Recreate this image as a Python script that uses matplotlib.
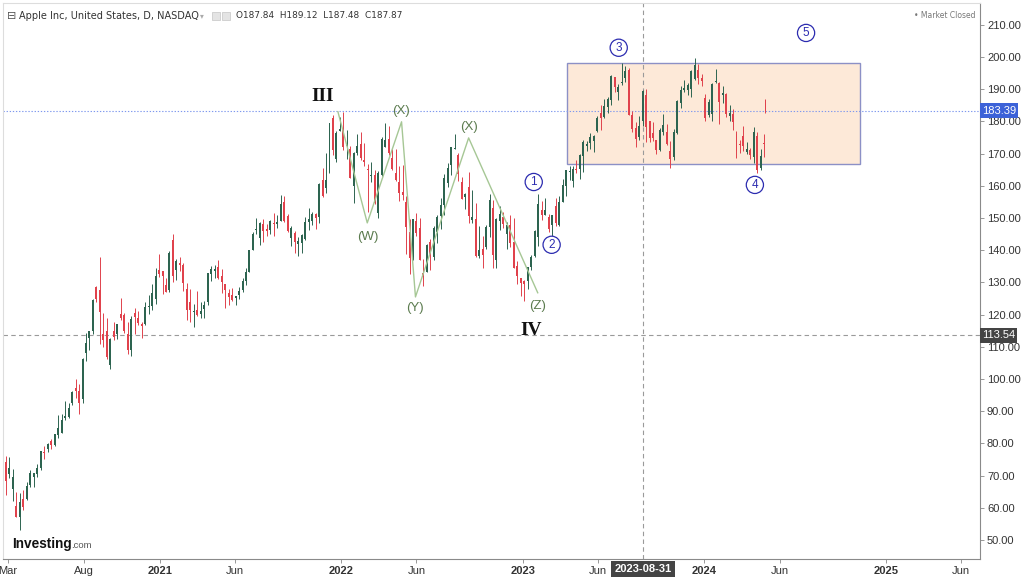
import numpy as np
import pandas as pd
import matplotlib
matplotlib.use("Agg")
import matplotlib.pyplot as plt
import matplotlib.dates as mdates
from matplotlib.patches import Rectangle
from matplotlib.transforms import blended_transform_factory

# ── weekly AAPL candles, week starting 2020-02-24 ──
opens = [
    # 2020
    74.3, 70.6, 65.9, 60.5, 57.0, 62.7, 62.7, 67.1, 69.5, 70.4, 72.3, 77.0, 78.3, 80.9, 79.4,
    82.6, 83.3, 87.8, 88.3, 92.5, 97.3, 96.4, 93.7, 108.2, 112.6, 115.0, 128.7, 127.6, 113.9,
    115.0, 104.5, 115.0, 113.9, 120.1, 120.0, 114.0, 109.1, 120.5, 118.9, 117.2, 117.0, 122.3,
    122.6, 125.0, 134.0,
    # 2021
    133.5, 129.2, 127.8, 143.1, 133.8, 136.0, 135.5, 128.0, 123.8, 120.9, 121.4, 120.3, 121.6,
    123.9, 132.5, 133.5, 134.8, 132.0, 129.4, 126.8, 126.0, 125.1, 126.2, 127.8, 130.3, 133.4,
    140.1, 146.2, 143.8, 148.3, 146.4, 146.2, 148.5, 148.3, 149.0, 155.0, 150.6, 143.8, 145.5,
    141.8, 142.3, 143.4, 148.7, 149.0, 151.4, 150.4, 161.7, 159.4, 164.3, 181.1, 168.3, 177.1,
    # 2022
    177.8, 172.3, 171.5, 160.0, 170.2, 172.9, 168.0, 165.0, 163.1, 163.4, 151.5, 163.5, 172.2,
    174.6, 168.7, 163.9, 161.1, 158.2, 154.9, 145.6, 137.8, 149.1, 147.0, 132.9, 133.4, 142.7,
    137.8, 145.7, 150.7, 154.0, 161.0, 166.4, 171.5, 169.7, 161.1, 156.5, 159.6, 149.3, 149.7,
    138.2, 140.4, 141.1, 147.2, 153.2, 137.1, 149.0, 150.2, 145.1, 147.8, 142.7, 135.1, 131.4,
    # 2023
    130.3, 130.5, 134.8, 138.1, 144.0, 152.6, 151.0, 150.2, 147.7, 153.8, 147.8, 155.1, 159.9,
    164.3, 161.4, 165.1, 165.2, 169.3, 172.5, 173.2, 174.0, 177.0, 182.6, 181.3, 184.4, 186.8,
    193.8, 189.2, 191.9, 193.4, 196.1, 182.1, 178.0, 175.1, 180.1, 188.3, 180.1, 176.5, 174.2,
    171.2, 176.8, 176.8, 170.9, 169.0, 176.4, 185.8, 189.9, 189.9, 190.0, 193.1, 196.1, 193.6,
    # 2024
    187.2, 182.1, 182.2, 192.3, 192.0, 188.2, 188.4, 181.8, 182.2, 176.2, 172.9, 175.6, 170.6,
    171.2, 169.0, 175.4, 165.5, 173.4,
]
highs = [
    76.0, 75.9, 72.0, 64.8, 64.7, 65.6, 67.9, 71.6, 70.8, 73.6, 77.6, 79.3, 80.2, 81.4, 82.9,
    88.7, 89.1, 93.1, 92.6, 96.3, 100.0, 98.5, 106.4, 114.4, 115.0, 124.9, 128.8, 138.0, 120.5,
    119.0, 112.9, 117.7, 117.0, 125.2, 120.4, 117.7, 119.6, 122.0, 121.0, 117.6, 123.8, 126.0,
    129.6, 134.4, 138.8,
    133.6, 131.5, 139.7, 145.1, 137.4, 137.9, 136.0, 129.7, 127.9, 123.2, 127.2, 123.9, 124.2,
    133.0, 135.0, 135.5, 137.1, 134.1, 129.5, 128.0, 128.3, 125.9, 128.5, 131.5, 134.6, 140.0,
    145.7, 150.0, 148.7, 149.8, 148.0, 149.4, 151.7, 150.9, 157.3, 157.0, 151.4, 147.4, 146.0,
    144.2, 144.9, 150.2, 153.2, 152.0, 151.6, 161.0, 165.7, 170.3, 179.6, 182.1, 176.9, 181.3,
    182.9, 177.2, 172.5, 170.4, 176.2, 176.7, 173.3, 166.7, 167.4, 165.0, 164.5, 175.3, 179.6,
    178.5, 171.3, 171.3, 166.2, 166.5, 156.7, 149.8, 149.7, 151.7, 149.9, 137.3, 141.9, 143.5,
    147.6, 150.9, 156.3, 163.6, 167.2, 172.2, 176.2, 170.1, 162.9, 157.8, 164.3, 158.7, 154.7,
    147.5, 144.5, 147.9, 157.5, 155.5, 150.0, 153.6, 151.8, 148.9, 150.9, 150.0, 136.6, 131.4,
    130.9, 134.9, 138.6, 146.4, 157.4, 155.2, 156.3, 151.3, 151.1, 156.3, 156.7, 162.1, 165.0,
    166.3, 166.3, 167.9, 169.9, 174.3, 174.0, 176.4, 175.8, 181.8, 185.0, 187.0, 187.6, 194.5,
    193.9, 191.7, 198.2, 197.2, 196.7, 183.1, 179.7, 181.6, 189.9, 190.0, 180.3, 179.7, 174.4,
    178.0, 182.3, 179.1, 174.0, 177.8, 186.6, 191.0, 192.9, 192.1, 196.0, 199.6, 197.7, 194.7,
    188.4, 187.0, 192.0, 196.4, 192.2, 191.1, 188.7, 185.0, 183.9, 176.9, 174.4, 178.7, 173.6,
    171.9, 178.4, 176.8, 171.3, 176.0,
]
lows = [
    64.1, 69.4, 62.0, 57.0, 53.2, 59.2, 62.3, 66.6, 66.4, 69.6, 71.6, 75.1, 77.4, 78.3, 79.3,
    81.8, 83.1, 87.4, 87.8, 92.0, 94.0, 89.1, 92.5, 105.5, 109.1, 113.9, 123.9, 110.9, 110.0,
    106.1, 103.1, 112.2, 112.3, 118.2, 114.3, 107.7, 107.3, 114.1, 116.8, 112.6, 116.8, 120.2,
    121.5, 123.4, 131.7,
    126.4, 126.9, 126.9, 130.2, 130.9, 133.7, 127.4, 118.4, 117.6, 116.2, 119.7, 118.9, 118.9,
    123.1, 130.6, 131.3, 131.1, 126.7, 122.2, 122.9, 124.2, 123.1, 124.8, 127.1, 129.2, 133.4,
    140.1, 145.0, 141.7, 142.5, 144.5, 145.2, 144.5, 146.8, 149.0, 148.7, 145.8, 141.3, 139.1,
    138.3, 139.2, 143.2, 146.4, 147.8, 146.5, 148.4, 156.4, 157.8, 164.0, 169.7, 167.5, 177.0,
    171.0, 168.2, 162.3, 154.7, 169.5, 168.0, 166.3, 152.0, 161.1, 154.5, 150.1, 163.0, 172.0,
    169.7, 165.0, 161.5, 155.4, 155.7, 138.8, 132.6, 137.1, 144.5, 137.0, 129.0, 133.3, 133.8,
    136.9, 142.1, 146.7, 150.8, 159.6, 163.3, 171.3, 161.5, 155.8, 152.7, 148.6, 148.6, 138.0,
    137.7, 134.4, 140.3, 144.1, 134.4, 134.4, 146.2, 146.9, 140.4, 140.9, 134.4, 129.6, 125.9,
    124.2, 128.1, 133.8, 137.9, 141.3, 149.5, 150.9, 145.7, 143.9, 147.6, 147.6, 155.0, 156.9,
    161.8, 159.8, 163.9, 162.0, 164.3, 170.8, 171.6, 170.5, 176.6, 177.3, 181.0, 182.6, 185.2,
    189.2, 186.6, 191.2, 192.3, 181.9, 176.6, 172.0, 174.3, 178.6, 173.5, 173.6, 173.9, 169.8,
    170.8, 175.8, 172.6, 165.7, 167.9, 176.2, 184.2, 189.3, 188.2, 187.5, 193.0, 191.7, 191.1,
    180.2, 181.5, 180.2, 191.9, 179.3, 185.8, 181.4, 180.0, 177.4, 168.5, 170.3, 170.8, 169.9,
    168.2, 167.1, 164.1, 164.8, 169.1,
]
closes = [
    68.3, 72.3, 69.5, 57.3, 61.9, 60.4, 66.9, 70.7, 70.7, 72.3, 77.5, 76.9, 79.7, 79.5, 82.9,
    84.7, 87.4, 88.4, 91.0, 95.9, 96.3, 92.6, 106.3, 111.1, 114.9, 124.4, 124.8, 120.9, 112.0,
    106.8, 112.3, 113.0, 117.0, 119.0, 115.0, 108.9, 118.7, 119.3, 117.3, 116.6, 122.3, 122.4,
    126.7, 132.0, 132.7,
    132.1, 127.1, 139.1, 132.0, 136.8, 135.4, 129.9, 121.3, 121.4, 121.0, 120.0, 121.2, 123.0,
    133.0, 134.2, 134.3, 131.5, 130.2, 127.5, 125.4, 124.6, 125.9, 127.4, 130.5, 133.1, 140.0,
    145.1, 146.4, 148.6, 145.9, 146.1, 149.1, 148.2, 148.6, 154.3, 149.0, 146.1, 146.9, 142.7,
    142.9, 144.8, 148.7, 149.8, 151.3, 150.0, 160.6, 156.8, 161.8, 179.5, 171.1, 176.3, 177.6,
    172.2, 173.1, 162.4, 170.3, 172.4, 168.6, 167.3, 164.9, 163.2, 154.7, 164.0, 174.7, 174.3,
    170.1, 165.3, 161.8, 157.7, 157.3, 147.1, 137.6, 149.6, 145.4, 137.1, 131.6, 141.7, 138.9,
    147.0, 150.2, 154.1, 162.5, 165.4, 172.1, 171.5, 163.6, 155.8, 157.4, 150.7, 150.4, 138.2,
    140.1, 138.4, 147.3, 155.7, 138.4, 149.7, 151.3, 148.1, 147.8, 142.2, 134.5, 131.9, 129.9,
    129.6, 134.8, 137.9, 145.9, 154.5, 151.0, 152.6, 146.7, 151.0, 148.5, 155.0, 160.3, 164.9,
    164.7, 165.2, 165.0, 169.7, 173.6, 172.6, 175.2, 175.4, 181.0, 181.0, 184.9, 187.0, 194.0,
    190.7, 190.7, 191.9, 195.8, 182.0, 177.8, 174.5, 178.6, 189.5, 178.2, 175.0, 174.8, 171.2,
    177.5, 178.9, 172.9, 168.2, 176.7, 186.4, 189.7, 190.0, 191.2, 195.7, 197.6, 193.6, 192.5,
    181.2, 185.9, 191.6, 192.4, 185.9, 188.9, 182.3, 182.5, 179.7, 170.7, 172.6, 172.3, 171.5,
    169.6, 176.6, 165.0, 169.3, 173.0,
]
# last daily session (2024-05-03)
last_day = "2024-05-03"
last_ohlc = [186.65, 187.0, 182.66, 183.38]

# ── Elliott wave annotation points (date, price) ──
wave_dates = ["2021-12-25", "2022-02-22", "2022-05-02", "2022-05-30", "2022-09-14", "2023-01-31"]
wave_prices = [183.0, 148.5, 179.9, 125.5, 174.9, 126.8]
wave_labels = [("(W)", "2022-02-24", 144.2), ("(X)", "2022-05-01", 183.3),
               ("(Y)", "2022-05-29", 122.1), ("(X)", "2022-09-15", 178.3),
               ("(Z)", "2023-01-31", 122.7)]
roman_labels = [("III", "2021-11-24", 187.8), ("IV", "2023-01-17", 115.0)]
circled = [("1", "2023-01-23", 161.2), ("2", "2023-02-28", 141.7), ("3", "2023-07-13", 202.9),
           ("4", "2024-04-12", 160.3), ("5", "2024-07-24", 207.5)]
box_start, box_end = "2023-03-31", "2024-11-10"
box_low, box_high = 166.8, 198.2

last_price = 183.39
cross_price = 113.54
cross_date = "2023-08-31"

tick_dates = ["2020-03-01", "2020-08-01", "2021-01-01", "2021-06-01", "2022-01-01", "2022-06-01",
              "2023-01-01", "2023-06-01", "2024-01-01", "2024-06-01", "2025-01-01", "2025-06-01"]
tick_labels = ["Mar", "Aug", "2021", "Jun", "2022", "Jun", "2023", "Jun", "2024", "Jun", "2025", "Jun"]

GREEN = "#2d6450"
RED = "#e0424c"
WAVE_GREEN = "#5b7b4e"
BLUE = "#2c2cb0"

W, H = 1024, 578
plt.rcParams["font.family"] = ["Liberation Sans", "DejaVu Sans"]
fig = plt.figure(figsize=(W / 100, H / 100), dpi=100)
ax = fig.add_axes([3 / W, 1 - 559 / H, (980 - 3) / W, (559 - 3) / H])


def d(s):
    return mdates.date2num(pd.Timestamp(s))


# ── candles ──────────────────────────────────────────────────────────────
dates = list(pd.date_range("2020-02-26", periods=len(closes), freq="7D")) + [pd.Timestamp(last_day)]
x = mdates.date2num(dates)
o = np.array(opens + [last_ohlc[0]])
h = np.array(highs + [last_ohlc[1]])
lo = np.array(lows + [last_ohlc[2]])
c = np.array(closes + [last_ohlc[3]])
cols = np.where(c >= o, GREEN, RED)
widths = np.array([4.0] * len(closes) + [1.8])

ax.vlines(x, lo, h, colors=cols, lw=0.7, zorder=3)
ax.bar(x, np.maximum(np.abs(c - o), 0.35), bottom=np.minimum(o, c), width=widths,
       color=cols, linewidth=0, zorder=4)

# ── range box ────────────────────────────────────────────────────────────
ax.add_patch(Rectangle((d(box_start), box_low), d(box_end) - d(box_start), box_high - box_low,
                       facecolor="#fde9d8", edgecolor="#8c90c6", lw=1.0, zorder=1))

# ── reference lines ──────────────────────────────────────────────────────
ax.axhline(last_price, color="#7f98ee", ls=(0, (1.2, 1.6)), lw=0.8, zorder=2)
ax.axhline(cross_price, color="#9a9a9a", ls=(0, (4, 3)), lw=0.8, zorder=2)
ax.axvline(d(cross_date), color="#9a9a9a", ls=(0, (4, 3)), lw=0.8, zorder=2)

# ── wave lines and labels ────────────────────────────────────────────────
ax.plot([d(s) for s in wave_dates], wave_prices, color="#a6c795", lw=1.0, zorder=5)
for txt, ds, p in wave_labels:
    ax.text(d(ds), p, txt, color=WAVE_GREEN, fontsize=9.5, ha="center", va="center", zorder=6)
for txt, ds, p in roman_labels:
    ax.text(d(ds), p, txt, color="#111111", fontsize=14, ha="center", va="center",
            family="Liberation Serif", weight="bold", zorder=6)
for txt, ds, p in circled:
    ax.text(d(ds), p, txt, color=BLUE, fontsize=8.5, ha="center", va="center", zorder=6,
            bbox=dict(boxstyle="circle,pad=0.22", fc="white", ec=BLUE, lw=0.9))

# ── axes styling ─────────────────────────────────────────────────────────
ax.set_xlim(d("2020-02-20"), d("2025-07-09"))
ax.set_ylim(44.1, 216.8)
ax.yaxis.tick_right()
ax.set_yticks(np.arange(50, 211, 10))
ax.set_yticklabels([f"{v:.2f}" for v in np.arange(50, 211, 10)])
ax.set_xticks([d(s) for s in tick_dates])
ax.set_xticklabels(tick_labels)
for lab in ax.get_xticklabels():
    if lab.get_text().isdigit():
        lab.set_fontweight("bold")
ax.tick_params(axis="y", direction="out", length=3, width=0.6, color="#888888",
               labelsize=8, labelcolor="#333333", pad=2)
ax.tick_params(axis="x", direction="out", length=3, width=0.6, color="#888888",
               labelsize=8, labelcolor="#333333", pad=2)
for side in ("left", "top"):
    ax.spines[side].set_color("#dddddd")
    ax.spines[side].set_linewidth(0.8)
for side in ("right", "bottom"):
    ax.spines[side].set_color("#8a8a8a")
    ax.spines[side].set_linewidth(0.8)

# price tags on the right axis
trans_y = blended_transform_factory(ax.transAxes, ax.transData)
ax.text(1.002, last_price, f"{last_price:.2f}", transform=trans_y, fontsize=8, color="white",
        va="center", ha="left", zorder=10, clip_on=False,
        bbox=dict(boxstyle="square,pad=0.2", fc="#3c62d8", ec="none"))
ax.text(1.002, cross_price, f"{cross_price:.2f}", transform=trans_y, fontsize=8, color="white",
        va="center", ha="left", zorder=10, clip_on=False,
        bbox=dict(boxstyle="square,pad=0.2", fc="#444444", ec="none"))
# date tag on the x axis
trans_x = blended_transform_factory(ax.transData, ax.transAxes)
ax.text(d(cross_date), -0.018, cross_date, transform=trans_x, fontsize=8, color="white",
        weight="bold", va="center", ha="center", zorder=10, clip_on=False,
        bbox=dict(boxstyle="square,pad=0.3", fc="#444444", ec="none"))

# ── header, market status, logo ──────────────────────────────────────────
def fx(px):
    return px / W


def fy(py):
    return 1 - py / H


fig.text(fx(7), fy(16), "⊟", fontsize=8, color="#555555", va="center", family="DejaVu Sans")
fig.text(fx(19), fy(16), "Apple Inc, United States, D, NASDAQ", fontsize=7, color="#333333",
         va="center", family="DejaVu Sans")
fig.text(fx(200), fy(16), "▾", fontsize=5.5, color="#aaaaaa", va="center", family="DejaVu Sans")
for bx in (212, 222):
    fig.patches.append(Rectangle((fx(bx), fy(20)), 8 / W, 8 / H, transform=fig.transFigure,
                                 facecolor="#e4e4e4", edgecolor="#cccccc", lw=0.6))
fig.text(fx(236), fy(16), "O187.84  H189.12  L187.48  C187.87", fontsize=6.4, color="#333333",
         va="center", family="DejaVu Sans")
fig.text(fx(975), fy(15), "• Market Closed", fontsize=5.5, color="#777777", va="center",
         ha="right", family="DejaVu Sans")
fig.text(fx(12), fy(544), "Investing", fontsize=9.8, weight="bold", color="#111111",
         va="center", family="Liberation Sans")
fig.text(fx(71), fy(545.5), ".com", fontsize=6.8, color="#555555", va="center",
         family="Liberation Sans")

fig.savefig("out.png", dpi=100, facecolor="white")
